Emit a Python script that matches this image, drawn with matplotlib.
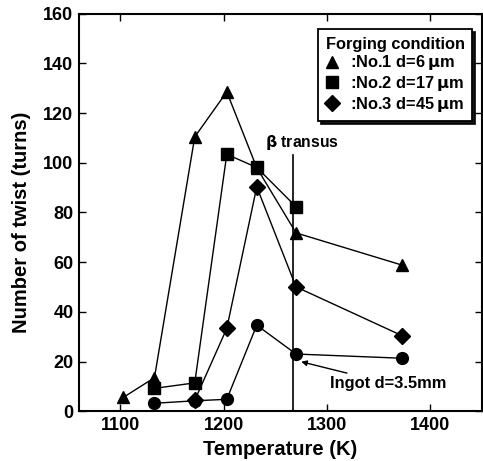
import matplotlib
matplotlib.use("Agg")
import matplotlib.pyplot as plt
from matplotlib.lines import Line2D

plt.rcParams['font.family'] = ['Liberation Sans', 'DejaVu Sans']
plt.rcParams['font.weight'] = 'bold'

# Data
t_no1 = [1103, 1133, 1172, 1203, 1232, 1270, 1373]
v_no1 = [5.7, 13.6, 110.4, 128.5, 98.0, 71.8, 58.8]

t_no2 = [1133, 1172, 1203, 1232, 1270]
v_no2 = [9.3, 11.5, 103.4, 98.1, 82.3]

t_no3 = [1172, 1203, 1232, 1270, 1373]
v_no3 = [4.5, 33.4, 90.3, 50.1, 30.4]

t_ingot = [1133, 1172, 1203, 1232, 1270, 1373]
v_ingot = [3.3, 4.3, 4.9, 34.7, 23.1, 21.4]

beta_transus = 1267
labels = [":No.1 d=6$\\,\\mathbf{\\mu}$m", ":No.2 d=17$\\,\\mathbf{\\mu}$m", ":No.3 d=45$\\,\\mathbf{\\mu}$m"]
xticks = [1100, 1200, 1300, 1400]
yticks = [0, 20, 40, 60, 80, 100, 120, 140, 160]

fig = plt.figure(figsize=(4.83, 4.61), dpi=100)
ax = fig.add_axes([0.1636, 0.1074, 0.8344, 0.8633])

lw = 1.0
ax.plot(t_no1, v_no1, color='black', lw=lw, marker='^', ms=8.5, zorder=3)
ax.plot(t_no2, v_no2, color='black', lw=lw, marker='s', ms=8, zorder=3)
ax.plot(t_no3, v_no3, color='black', lw=lw, marker='D', ms=8, zorder=3)
ax.plot(t_ingot, v_ingot, color='black', lw=lw, marker='o', ms=8.5, zorder=3)

ax.plot([beta_transus, beta_transus], [0, 103], color='black', lw=1.2)
ax.text(1240, 108, "$\\mathbf{\\beta}$ transus", fontsize=11.3, fontweight='bold',
        ha='left', va='center')

ax.annotate("Ingot d=3.5mm", xy=(1275, 20), xytext=(1303, 11.3),
            fontsize=11.8, fontweight='bold', ha='left', va='center',
            arrowprops=dict(arrowstyle='-|>', color='black', lw=1.0,
                            mutation_scale=8, shrinkA=0, shrinkB=0))

ax.set_xlim(1060, 1450)
ax.set_ylim(0, 160)
ax.set_xticks(xticks)
ax.set_yticks(yticks)
ax.tick_params(direction='in', length=5, width=1.0, top=True, right=True,
               labelsize=13, pad=4)
for lab in ax.get_xticklabels() + ax.get_yticklabels():
    lab.set_fontweight('bold')
for s in ax.spines.values():
    s.set_linewidth(1.5)

ax.set_xlabel("Temperature (K)", fontsize=14.5, fontweight='bold', labelpad=4)
ax.set_ylabel("Number of twist (turns)", fontsize=14.5, fontweight='bold')
ax.yaxis.set_label_coords(-0.12, 0.476)

handles = [Line2D([], [], color='black', marker=m, ls='none', ms=ms)
           for m, ms in zip(['^', 's', 'D'], [8.5, 8, 8])]
leg = ax.legend(handles, labels, title="Forging condition", loc='upper right',
                bbox_to_anchor=(0.975, 0.96), frameon=True, fancybox=False,
                shadow={'color': 'black', 'alpha': 0.9},
                prop={'size': 11.8, 'weight': 'bold'},
                title_fontproperties={'size': 11.8, 'weight': 'bold'},
                handlelength=0.8, handletextpad=0.7, labelspacing=0.1,
                borderpad=0.45, borderaxespad=0)
leg.get_frame().set_edgecolor('black')
leg.get_frame().set_linewidth(1.3)

fig.savefig("out.png", dpi=100)
